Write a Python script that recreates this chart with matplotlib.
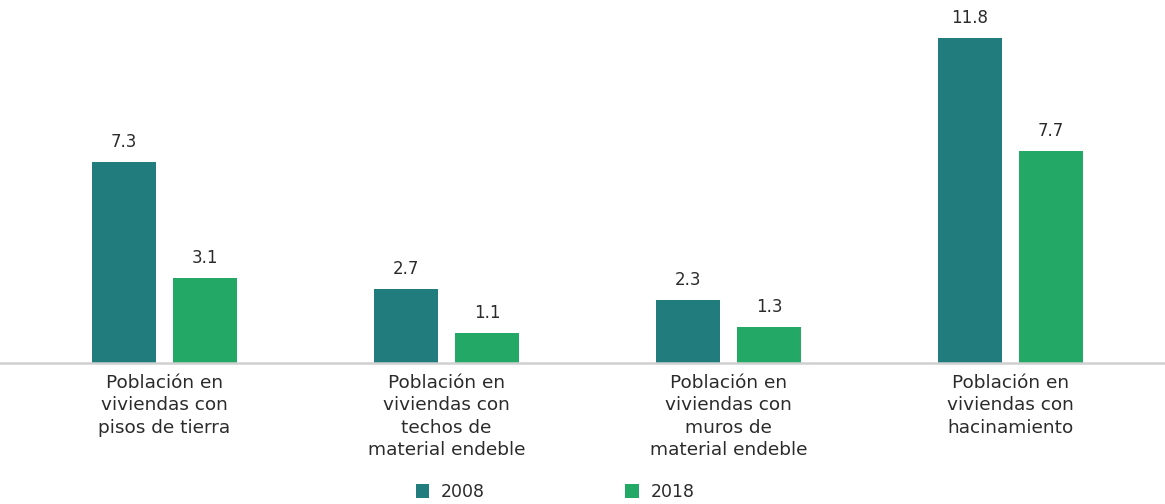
import matplotlib
matplotlib.use("Agg")
import matplotlib.pyplot as plt
from matplotlib.patches import Patch
import numpy as np

categories = [
    "Población en\nviviendas con\npisos de tierra",
    "Población en\nviviendas con\ntechos de\nmaterial endeble",
    "Población en\nviviendas con\nmuros de\nmaterial endeble",
    "Población en\nviviendas con\nhacinamiento",
]
series_names = ["2008", "2018"]
values_2008 = [7.3, 2.7, 2.3, 11.8]
values_2018 = [3.1, 1.1, 1.3, 7.7]

color_2008 = "#217C7E"
color_2018 = "#23A866"
text_color = "#2b2b2b"

plt.rcParams["font.family"] = ["DejaVu Sans"]

W, H = 1165, 504
fig = plt.figure(figsize=(W / 100, H / 100), dpi=100)
ax = fig.add_axes([0, (H - 363) / H, 1, 363 / H])

x = np.arange(len(categories))
width = 0.227
offset = 0.1436

bars_a = ax.bar(x - offset, values_2008, width, color=color_2008)
bars_b = ax.bar(x + offset, values_2018, width, color=color_2018)

for bars, vals in ((bars_a, values_2008), (bars_b, values_2018)):
    for b, v in zip(bars, vals):
        ax.annotate(f"{v:.1f}", (b.get_x() + b.get_width() / 2, v),
                    xytext=(0, 8), textcoords="offset points",
                    ha="center", va="bottom", fontsize=12, color=text_color)

ax.set_xlim(-164.5 / 282, (W - 164.5) / 282)
ax.set_ylim(0, 363 / 27.54)

ax.set_xticks(x)
ax.set_xticklabels(categories, fontsize=13.3, color=text_color, linespacing=1.3)
ax.tick_params(axis="x", length=0, pad=8)
ax.set_yticks([])
for side in ("top", "right", "left"):
    ax.spines[side].set_visible(False)
ax.spines["bottom"].set_color("#d0d0d0")
ax.spines["bottom"].set_linewidth(1.8)
ax.set_facecolor("none")

handles = [Patch(facecolor=color_2008), Patch(facecolor=color_2018)]
fig.legend(handles, series_names, loc="center", bbox_to_anchor=(555 / W, 1 - 492 / H),
           ncol=2, frameon=False, fontsize=12.5, handlelength=0.8, handleheight=0.8,
           handletextpad=0.65, columnspacing=8.1, labelcolor=text_color)

fig.savefig("out.png", dpi=100)
